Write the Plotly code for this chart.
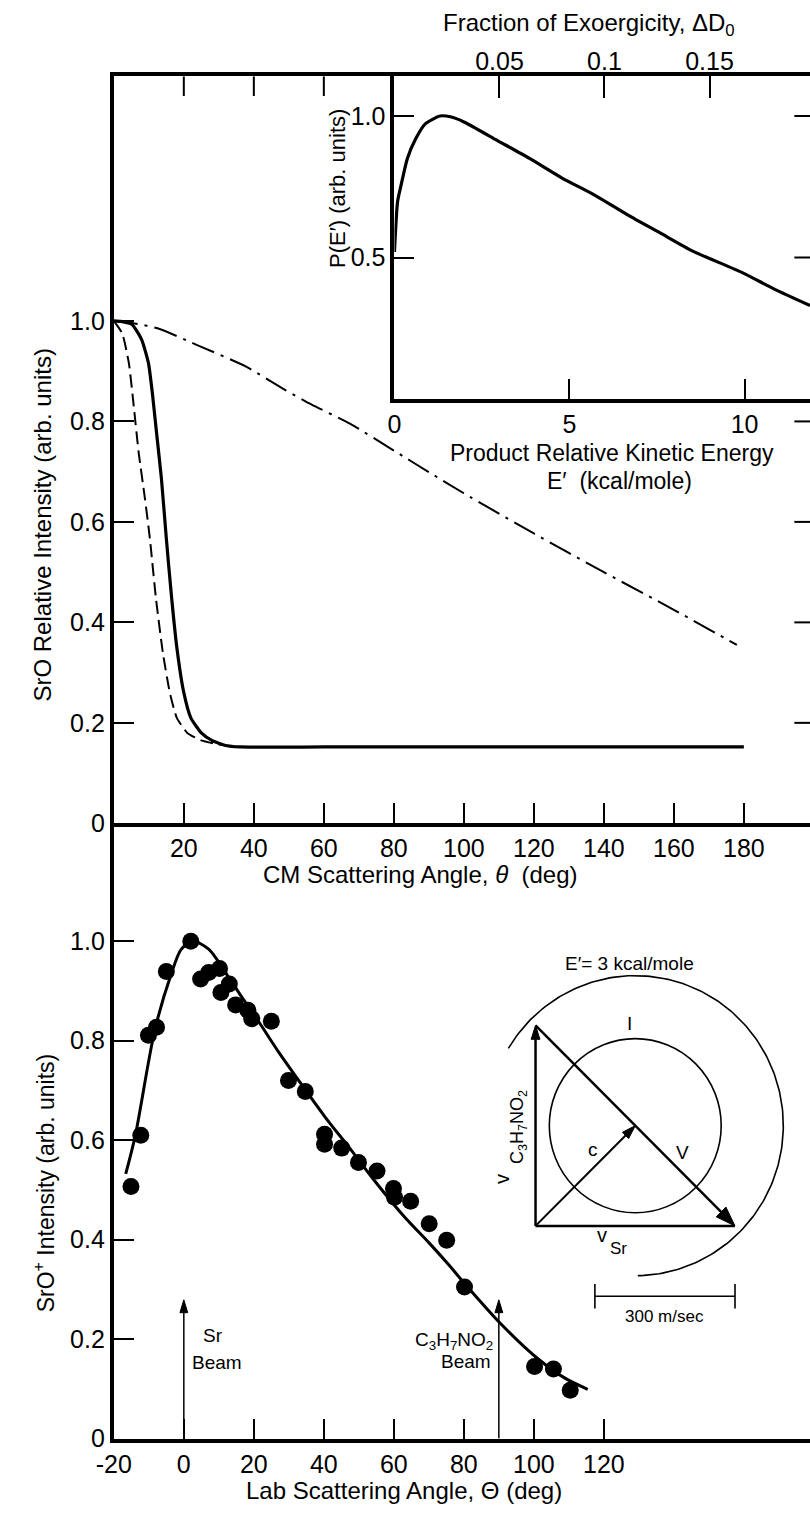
import numpy as np
import plotly.graph_objects as go

W, H = 810, 1516

# ---------------- data ----------------
# Top panel: CM angular distributions
cm_solid_theta = [0, 2, 5.2, 8.0, 9.9, 11.0, 12.2, 13.6, 15.0, 16.5, 18.0, 20.0, 22.0, 25.0, 28.0, 32.0, 36.0, 60, 100, 140, 180]
cm_solid_int = [1.0, 0.999, 0.993, 0.962, 0.916, 0.857, 0.778, 0.686, 0.567, 0.45, 0.35, 0.26, 0.21, 0.18, 0.165, 0.155, 0.152, 0.152, 0.152, 0.152, 0.152]
cm_dash_theta = [0, 2.4, 4.3, 5.7, 7.1, 8.9, 10.3, 12.0, 14.0, 16.0, 18.0, 21.0, 25.0, 30.0, 35.0]
cm_dash_int = [1.0, 0.975, 0.916, 0.83, 0.738, 0.646, 0.567, 0.45, 0.34, 0.26, 0.21, 0.18, 0.165, 0.157, 0.153]
cm_dashdot_theta = [0, 5.2, 12.7, 23.8, 37.8, 48.9, 56.4, 67.6, 80, 90, 100, 120, 140, 160, 178]
cm_dashdot_int = [1.0, 0.996, 0.985, 0.952, 0.909, 0.863, 0.834, 0.795, 0.742, 0.699, 0.657, 0.577, 0.5, 0.425, 0.355]

# Inset: P(E')
pe_energy = [0, 0.09, 0.19, 0.37, 0.61, 0.88, 1.3, 1.6, 2.0, 2.93, 3.86, 4.8, 5.73, 6.66, 7.59, 8.52, 9.92, 10.85, 11.87]
pe_prob = [0.52, 0.698, 0.756, 0.85, 0.92, 0.972, 1.0, 0.997, 0.978, 0.914, 0.85, 0.78, 0.72, 0.651, 0.587, 0.523, 0.448, 0.389, 0.331]

# Bottom panel: lab data
lab_angle = [-15.1, -12.3, -10.1, -7.8, -5.0, 2.0, 4.8, 7.1, 10.2, 10.6, 13.0, 14.8, 18.3, 19.4, 25.0,
             29.9, 34.7, 40.2, 40.2, 45.1, 49.9, 55.2, 59.9, 60.2, 64.8, 70.1, 75.1, 80.2, 100.2, 105.6, 110.4]
lab_int = [0.507, 0.610, 0.811, 0.827, 0.939, 1.0, 0.924, 0.937, 0.945, 0.897, 0.914, 0.872, 0.861, 0.844, 0.839,
           0.720, 0.698, 0.612, 0.592, 0.584, 0.555, 0.538, 0.503, 0.485, 0.477, 0.432, 0.399, 0.305, 0.145, 0.140, 0.097]
fit_angle = [-16.6, -13.9, -8.3, -3.6, -0.8, 2.5, 7.1, 12.2, 16.9, 21.5, 27.1, 32.7, 40.2, 47.6, 54.1, 63.0, 70.0, 75.5, 80.2, 90.4, 101.6, 109.0, 115.4]
fit_int = [0.532, 0.608, 0.821, 0.934, 0.983, 1.0, 0.984, 0.934, 0.884, 0.837, 0.777, 0.721, 0.648, 0.582, 0.522, 0.446, 0.394, 0.351, 0.312, 0.232, 0.158, 0.121, 0.099]

cm_ticks = [20, 40, 60, 80, 100, 120, 140, 160, 180]
int_ticks = [0, 0.2, 0.4, 0.6, 0.8, 1.0]
int_ticktext = ["0", "0.2", "0.4", "0.6", "0.8", "1.0"]
lab_ticks = [-20, 0, 20, 40, 60, 80, 100, 120]
lab_ticktext = ["-20", "0", "20", "40", "60", "80", "100", "120"]
pe_ticks = [0, 5, 10]
pe_yticks = [0.5, 1.0]
pe_yticktext = ["0.5", "1.0"]
frac_ticks = [0.05, 0.1, 0.15]
frac_ticktext = ["0.05", "0.1", "0.15"]
exoergicity = 60.0  # kcal/mole

beam_angles = [0, 90]
beam_tip = 0.279

# Newton diagram (m/sec)
v_sr = 427.0
v_c3 = 423.5
r_inner = 184.0
r_outer = 317.0
scale_bar = 300.0

# ---------------- layout helpers ----------------
def px_x(p):
    return p / W

def px_y(p):
    return 1 - p / H

X0 = px_x(98)
TOP = (px_y(831), px_y(77))
BOT = (px_y(1452), px_y(831))
CM_RANGE = [0, 198.9]
TOP_YR = [0, 1.487]
LAB_RANGE = [-20, 178.9]
BOT_YR = [0, 1.237]
PE_XR = [0, 11.87]
PE_YR = [0, 1.14]

# pixels per data unit (for arrowheads)
SX2 = (810 - 98) / (LAB_RANGE[1] - LAB_RANGE[0])
SY2 = (1452 - 831) / (BOT_YR[1] - BOT_YR[0])
k = 143.3 / scale_bar  # px per m/sec in the Newton diagram
ox, oy = 529.3, 1237.3

FONT = "Liberation Sans, Arial, sans-serif"
TF = dict(family=FONT, size=25, color="black")

fig = go.Figure()
shapes = []

def arrow(x0, y0, x1, y1, xa, ya, sx, sy, width=2, L=14, w=5):
    """shaft as a trace, filled head as a path shape (tip at x1, y1)"""
    dxp, dyp = (x1 - x0) * sx, (y1 - y0) * sy
    n = np.hypot(dxp, dyp)
    ux, uy = dxp / n, dyp / n
    bx, by = x1 - L * ux / sx, y1 - L * uy / sy
    fig.add_trace(go.Scatter(x=[x0, bx], y=[y0, by], mode="lines", xaxis=xa, yaxis=ya,
                             line=dict(color="black", width=width), hoverinfo="skip"))
    px_, py_ = -uy, ux
    c1 = (bx + w * px_ / sx, by + w * py_ / sy)
    c2 = (bx - w * px_ / sx, by - w * py_ / sy)
    path = f"M {x1} {y1} L {c1[0]} {c1[1]} L {c2[0]} {c2[1]} Z"
    shapes.append(dict(type="path", path=path, xref=xa, yref=ya,
                       fillcolor="black", line=dict(color="black", width=1)))

# Top panel curves
fig.add_trace(go.Scatter(x=cm_solid_theta, y=cm_solid_int, mode="lines",
                         line=dict(color="black", width=3.2, shape="spline", smoothing=0.5),
                         xaxis="x", yaxis="y", hoverinfo="skip"))
fig.add_trace(go.Scatter(x=cm_dash_theta, y=cm_dash_int, mode="lines",
                         line=dict(color="black", width=2, dash="13px,6px", shape="spline", smoothing=0.5),
                         xaxis="x", yaxis="y", hoverinfo="skip"))
fig.add_trace(go.Scatter(x=cm_dashdot_theta, y=cm_dashdot_int, mode="lines",
                         line=dict(color="black", width=2, dash="24px,7px,3px,7px", shape="spline", smoothing=0.6),
                         xaxis="x", yaxis="y", hoverinfo="skip"))

# Inset curve
fig.add_trace(go.Scatter(x=pe_energy, y=pe_prob, mode="lines",
                         line=dict(color="black", width=3.2, shape="spline", smoothing=0.6),
                         xaxis="x3", yaxis="y3", hoverinfo="skip"))
fig.add_trace(go.Scatter(x=[frac_ticks[1]], y=[0.5], mode="markers", marker=dict(opacity=0),
                         xaxis="x4", yaxis="y3", hoverinfo="skip"))

# Bottom panel
fig.add_trace(go.Scatter(x=fit_angle, y=fit_int, mode="lines",
                         line=dict(color="black", width=3, shape="spline", smoothing=0.8),
                         xaxis="x2", yaxis="y2", hoverinfo="skip"))
fig.add_trace(go.Scatter(x=lab_angle, y=lab_int, mode="markers",
                         marker=dict(color="black", size=17, line=dict(width=0)),
                         xaxis="x2", yaxis="y2", hoverinfo="skip"))
for b in beam_angles:
    arrow(b, 0, b, beam_tip, "x2", "y2", SX2, SY2, width=1.5, L=13, w=4)

# Newton diagram
cx, cy = v_sr / 2, v_c3 / 2
fig.add_trace(go.Scatter(x=[0, v_sr], y=[0, 0], mode="lines",
                         line=dict(color="black", width=2.5), xaxis="x5", yaxis="y5", hoverinfo="skip"))
arc_t = np.linspace(np.deg2rad(149), np.deg2rad(-89), 200)
fig.add_trace(go.Scatter(x=cx + r_outer * np.cos(arc_t), y=cy + r_outer * np.sin(arc_t), mode="lines",
                         line=dict(color="black", width=1.6), xaxis="x5", yaxis="y5", hoverinfo="skip"))
arrow(0, 0, 0, v_c3, "x5", "y5", k, k, width=2.5, L=14, w=4.5)
arrow(0, v_c3, v_sr, 0, "x5", "y5", k, k, width=2.5, L=20, w=7)
arrow(0, 0, cx, cy, "x5", "y5", k, k, width=2, L=14, w=4.5)

axis_common = dict(showgrid=False, zeroline=False, showline=True, linecolor="black", linewidth=4,
                   ticks="inside", ticklen=20, tickwidth=2, tickcolor="black", tickfont=TF)

fig.update_layout(
    width=W, height=H, margin=dict(l=0, r=0, t=0, b=0),
    paper_bgcolor="white", plot_bgcolor="rgba(0,0,0,0)", showlegend=False,
    font=dict(family=FONT, color="black"),
    xaxis=dict(domain=[X0, 1], range=CM_RANGE, anchor="y", tickvals=cm_ticks, mirror=True, **axis_common),
    yaxis=dict(domain=list(TOP), range=TOP_YR, anchor="x", tickvals=int_ticks, ticktext=int_ticktext, **axis_common),
    xaxis2=dict(domain=[X0, 1], range=LAB_RANGE, anchor="y2", tickvals=lab_ticks, ticktext=lab_ticktext, **axis_common),
    yaxis2=dict(domain=list(BOT), range=BOT_YR, anchor="x2", tickvals=int_ticks, ticktext=int_ticktext, **axis_common),
    xaxis3=dict(domain=[px_x(385), 1], range=PE_XR, anchor="y3", tickvals=pe_ticks, **axis_common),
    yaxis3=dict(domain=[px_y(403), px_y(77)], range=PE_YR, anchor="x3", tickvals=pe_yticks,
                ticktext=pe_yticktext, **axis_common),
    xaxis4=dict(overlaying="x3", side="top", anchor="y3", range=[PE_XR[0] / exoergicity, PE_XR[1] / exoergicity],
                tickvals=frac_ticks, ticktext=frac_ticktext, showgrid=False, zeroline=False, showline=False,
                ticks="inside", ticklen=22, tickwidth=2, tickcolor="black", tickfont=TF),
    xaxis5=dict(domain=[px_x(470), 1], range=[(470 - ox) / k, (810 - ox) / k], anchor="y5", visible=False),
    yaxis5=dict(domain=[px_y(1340), px_y(900)], range=[-(1340 - oy) / k, (oy - 900) / k], anchor="x5", visible=False),
)

for t in cm_ticks[:3]:
    shapes.append(dict(type="line", xref="x", yref="y", x0=t, x1=t, y0=TOP_YR[1], y1=TOP_YR[1] - 20 / 507,
                       line=dict(color="black", width=2)))
for v in int_ticks[1:5]:
    shapes.append(dict(type="line", xref="x", yref="y", x0=CM_RANGE[1] - 16 / 3.58, x1=CM_RANGE[1], y0=v, y1=v,
                       line=dict(color="black", width=2)))
for v in pe_yticks:
    shapes.append(dict(type="line", xref="x3", yref="y3", x0=PE_XR[1] - 16 / 35.8, x1=PE_XR[1], y0=v, y1=v,
                       line=dict(color="black", width=2)))
shapes.append(dict(type="circle", xref="x5", yref="y5", x0=cx - r_inner, x1=cx + r_inner,
                   y0=cy - r_inner, y1=cy + r_inner, line=dict(color="black", width=1.6)))
sb_x0 = (590 - ox) / k
sb_y = -(1308.3 - oy) / k
shapes.append(dict(type="line", xref="x5", yref="y5", x0=sb_x0, x1=sb_x0 + scale_bar, y0=sb_y, y1=sb_y,
                   line=dict(color="black", width=1.6)))
for xx in [sb_x0, sb_x0 + scale_bar]:
    shapes.append(dict(type="line", xref="x5", yref="y5", x0=xx, x1=xx, y0=sb_y - 26, y1=sb_y + 26,
                       line=dict(color="black", width=1.6)))
fig.update_layout(shapes=shapes)

ann = []
def text(x, y, s, size=25, xref="paper", yref="paper", angle=0, xanchor="center", yanchor="middle"):
    ann.append(dict(x=x, y=y, xref=xref, yref=yref, text=s, showarrow=False, textangle=angle,
                    xanchor=xanchor, yanchor=yanchor, font=dict(family=FONT, size=size, color="black")))

# titles
text(px_x(584), px_y(25), "Fraction of Exoergicity, ΔD<sub>0</sub>", size=24)
text(px_x(25), px_y(530), "SrO Relative Intensity (arb. units)", size=24, angle=-90)
text(px_x(27), px_y(1194), "SrO<sup>+</sup> Intensity (arb. units)", size=23, angle=-90)
text(px_x(326), px_y(190), "P(E′) (arb. units)", size=22, angle=-90)
text(px_x(607), px_y(457), "Product Relative Kinetic Energy", size=23)
text(px_x(615), px_y(485), "E′  (kcal/mole)", size=23)
text(px_x(412), px_y(883), "CM Scattering Angle, <i>θ</i>  (deg)", size=24)
text(px_x(395), px_y(1504), "Lab Scattering Angle, Θ (deg)", size=24)

# beam labels
text(4.8, 0.207, "Sr", size=19, xref="x2", yref="y2", xanchor="left")
text(1.8, 0.153, "Beam", size=19, xref="x2", yref="y2", xanchor="left")
text(88.9, 0.197, "C<sub>3</sub>H<sub>7</sub>NO<sub>2</sub>", size=19, xref="x2", yref="y2", xanchor="right")
text(88.4, 0.155, "Beam", size=19, xref="x2", yref="y2", xanchor="right")

# Newton diagram labels
def dtext(px, py, s, size=19, angle=0):
    text((px - ox) / k, (oy - py) / k, s, size=size, xref="x5", yref="y5", angle=angle)

dtext(625, 972, "E′= 3 kcal/mole")
dtext(625, 1033, "I")
dtext(588.3, 1160, "c")
dtext(679.3, 1163.3, "V")
dtext(495, 1190, "v", size=20, angle=-90)
dtext(512, 1138, "C<sub>3</sub>H<sub>7</sub>NO<sub>2</sub>", size=18, angle=-90)
dtext(597, 1247, "v", size=20)
dtext(614, 1260, "Sr", size=17)
dtext(661.7, 1328.3, "300 m/sec", size=17)

fig.update_layout(annotations=ann)
fig.write_html("out.html")
